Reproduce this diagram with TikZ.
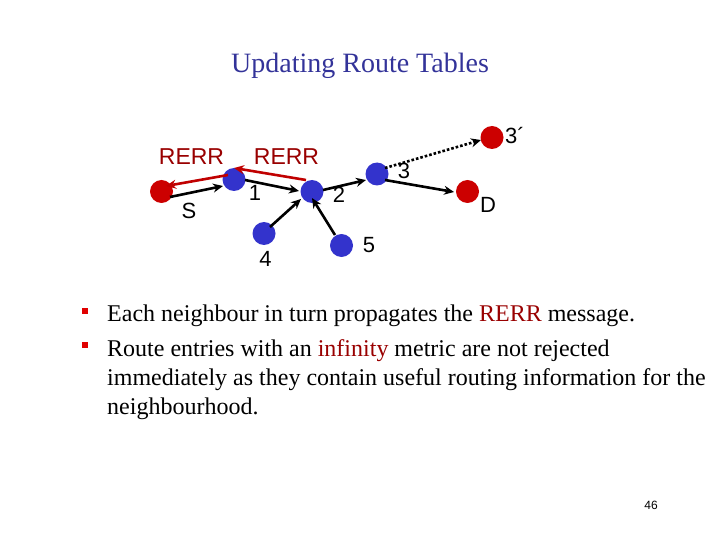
\documentclass[tikz,border=0pt]{standalone}
\usepackage{fontspec}
\setmainfont{Liberation Serif}
\newfontfamily\arial{Liberation Sans}
\usetikzlibrary{arrows.meta}
\definecolor{nodered}{RGB}{204,0,0}
\definecolor{nodeblue}{RGB}{51,51,204}
\definecolor{rerr}{RGB}{153,0,0}
\definecolor{rerrarrow}{RGB}{192,0,0}
\definecolor{titleblue}{RGB}{51,51,153}
\definecolor{bulletred}{RGB}{224,0,0}
\tikzset{
  rnode/.style={circle,fill=nodered,minimum size=23pt,inner sep=0pt},
  bnode/.style={circle,fill=nodeblue,minimum size=23pt,inner sep=0pt},
  lbl/.style={font=\arial\fontsize{22}{24}\selectfont},
  rlbl/.style={font=\arial\fontsize{23}{25}\selectfont,text=rerr},
  link/.style={line width=2.6pt,-{Stealth[length=10pt,width=9pt]}},
  errlink/.style={line width=2.6pt,draw=rerrarrow,-{Stealth[length=10pt,width=9pt]}},
  body/.style={font=\fontsize{24}{28}\selectfont,anchor=base west,inner sep=0pt},
  bullet/.style={fill=bulletred,minimum size=6pt,inner sep=0pt},
}
\begin{document}
\begin{tikzpicture}[x=1pt,y=-1pt]
\useasboundingbox (0,0) rectangle (720,540);
\node[font=\fontsize{28}{32}\selectfont,text=titleblue] (title) at (360,66) {Updating Route Tables};
% nodes
\node[rnode] (S) at (161.5,191.5) {};
\node[bnode] (n1) at (234,179.5) {};
\node[bnode] (n2) at (312,191.5) {};
\node[bnode] (n3) at (377,174) {};
\node[rnode] (n3p) at (492,137.5) {};
\node[rnode] (D) at (467.5,191.5) {};
\node[bnode] (n4) at (264,233.5) {};
\node[bnode] (n5) at (341.5,245.5) {};
% connection points
\coordinate (s1a) at (170,197); \coordinate (s1b) at (223,186);
\coordinate (a12) at (245,180); \coordinate (b12) at (299,191);
\coordinate (a23) at (323,190); \coordinate (b23) at (366,180);
\coordinate (a3d) at (385,180); \coordinate (b3d) at (454,192);
\coordinate (a42) at (270,227); \coordinate (b42) at (301,199);
\coordinate (a52) at (335,235); \coordinate (b52) at (312,198);
\coordinate (a33) at (385,168); \coordinate (b33) at (481,140);
\coordinate (e21a) at (306,180); \coordinate (e21b) at (234,168);
\coordinate (e1sa) at (228,175); \coordinate (e1sb) at (166,186);
\draw[link] (s1a) -- (s1b);
\draw[link] (a12) -- (b12);
\draw[link] (a23) -- (b23);
\draw[link] (a3d) -- (b3d);
\draw[link] (a42) -- (b42);
\draw[link] (a52) -- (b52);
\draw[link,dotted] (a33) -- (b33);
\draw[errlink] (e21a) -- (e21b);
\draw[errlink] (e1sa) -- (e1sb);
% labels
\node[rlbl] (r1) at (191.5,156.5) {RERR};
\node[rlbl] (r2) at (286.5,156.5) {RERR};
\node[lbl] (lS) at (189,211) {S};
\node[lbl] (l1) at (255,193) {1};
\node[lbl] (l2) at (339,195) {2};
\node[lbl] (l3) at (404,171) {3};
\node[lbl] (l3p) at (515,136) {3´};
\node[lbl] (lD) at (488,205) {D};
\node[lbl] (l4) at (265.5,258.5) {4};
\node[lbl] (l5) at (369,245) {5};
% text
\node[bullet] (b1) at (84.5,310.5) {};
\node[body] (t1) at (107,321) {Each neighbour in turn propagates the \textcolor{rerr}{RERR} message.};
\node[bullet] (b2) at (84.5,345) {};
\node[body] (t2) at (107,356) {Route entries with an \textcolor{rerr}{infinity} metric are not rejected};
\node[body] (t3) at (107,385) {immediately as they contain useful routing information for the};
\node[body] (t4) at (107,414) {neighbourhood.};
\node[font=\arial\fontsize{12}{14}\selectfont] (pg) at (651,505) {46};
\end{tikzpicture}
\end{document}
